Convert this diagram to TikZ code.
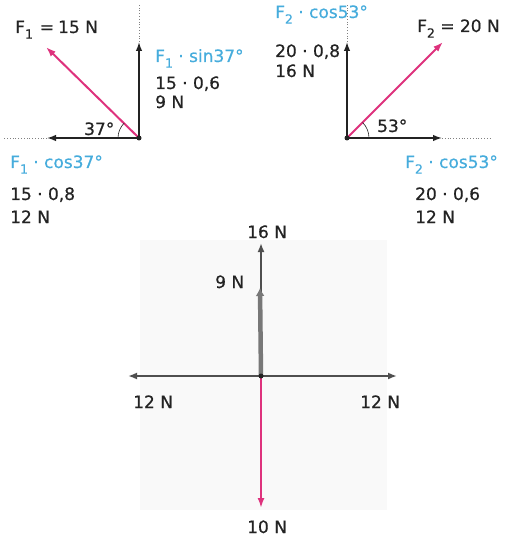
\documentclass[tikz,border=0pt]{standalone}
\usepackage{fontspec}
\setmainfont[FakeBold=0.6]{DejaVu Sans}
\usetikzlibrary{arrows.meta}
\definecolor{fpink}{RGB}{222,50,125}
\definecolor{fcyan}{RGB}{70,172,220}
\definecolor{ink}{RGB}{35,35,35}
\definecolor{barg}{RGB}{120,120,120}
\definecolor{bgpan}{RGB}{249,249,249}
\newcommand{\lowsub}[1]{\raisebox{-0.6ex}{\fontsize{12.5}{12}\selectfont #1}}
\begin{document}
\begin{tikzpicture}[x=1pt,y=-1pt,
  font=\fontsize{17}{20}\selectfont,
  vec/.style={draw=ink, line width=1.4pt, -{Latex[length=9pt,width=6.5pt]}},
  force/.style={draw=fpink, line width=2pt, -{Latex[length=10pt,width=7pt]}},
  gvec/.style={draw=ink!80, line width=1.8pt, -{Latex[length=9pt,width=7pt]}},
  guide/.style={draw=gray, dotted, line width=0.8pt},
  lbl/.style={anchor=base west, inner sep=0, text=ink},
  clbl/.style={lbl, text=fcyan},
  anglearc/.style={draw=ink, line width=0.6pt}]
\useasboundingbox (0,0) rectangle (518,545);
% faint panel
\fill[bgpan] (140,240) rectangle (387,510);

% ---------- left group ----------
\coordinate (O1) at (139,138);
\coordinate (V1) at (139,42);
\coordinate (H1) at (47,138);
\coordinate (P1) at (46,47);
\coordinate (V1d) at (139,3);
\coordinate (H1d) at (3,138);
\draw[guide] (V1) -- (V1d);
\draw[guide] (H1) -- (H1d);
\draw[vec] (O1) -- (V1);
\draw[vec] (O1) -- (H1);
\draw[force] (O1) -- (P1);
\draw[anglearc] ([shift={(180:21)}]O1) arc[start angle=180,end angle=225,radius=21];
\fill[ink] (O1) circle[radius=2.5];

\node[lbl] (f1) at (15,33) {F\lowsub{1}\hspace{7pt}=\hspace{4pt}15 N};
\node[clbl] (f1s) at (155,62) {F\lowsub{1} · sin37°};
\node[lbl] (f1s1) at (155,89) {15 · 0,6};
\node[lbl] (f1s2) at (155,108) {9 N};
\node[lbl] (a37) at (84,135) {37°};
\node[clbl] (f1c) at (10,168) {F\lowsub{1} · cos37°};
\node[lbl] (f1c1) at (10,200) {15 · 0,8};
\node[lbl] (f1c2) at (10,223) {12 N};

% ---------- right group ----------
\coordinate (O2) at (347,138);
\coordinate (V2) at (347,42);
\coordinate (H2) at (442,138);
\coordinate (P2) at (443,42);
\coordinate (V2d) at (347,3);
\coordinate (H2d) at (492,138);
\draw[guide] (V2) -- (V2d);
\draw[guide] (H2) -- (H2d);
\draw[vec] (O2) -- (V2);
\draw[vec] (O2) -- (H2);
\draw[force] (O2) -- (P2);
\draw[anglearc] ([shift={(0:22)}]O2) arc[start angle=0,end angle=-45,radius=22];
\fill[ink] (O2) circle[radius=2.5];

\node[clbl] (f2t) at (275,18) {F\lowsub{2} · cos53°};
\node[lbl] (f2t1) at (275,57) {20 · 0,8};
\node[lbl] (f2t2) at (275,77) {16 N};
\node[lbl] (f2) at (417,32) {F\lowsub{2} = 20 N};
\node[lbl] (a53) at (377,132) {53°};
\node[clbl] (f2c) at (405,168) {F\lowsub{2} · cos53°};
\node[lbl] (f2c1) at (415,200) {20 · 0,6};
\node[lbl] (f2c2) at (415,223) {12 N};

% ---------- resultant diagram ----------
\coordinate (O3) at (261,376);
\coordinate (U16) at (261,243);
\coordinate (U9) at (260,288);
\coordinate (L12) at (128,376);
\coordinate (R12) at (397,376);
\coordinate (D10) at (261,508);
\draw[gvec] (O3) -- (U16);
\draw[draw=barg, line width=4.5pt, -{Latex[length=8pt,width=9pt]}] (O3) -- (U9);
\draw[gvec] (O3) -- (L12);
\draw[gvec] (O3) -- (R12);
\draw[force] (O3) -- (D10);
\fill[ink] (O3) circle[radius=2.5];

\node[lbl] (n16) at (247,238) {16 N};
\node[lbl] (n9) at (215,288) {9 N};
\node[lbl] (n12l) at (133,408) {12 N};
\node[lbl] (n12r) at (360,408) {12 N};
\node[lbl] (n10) at (247,533) {10 N};
\end{tikzpicture}
\end{document}
